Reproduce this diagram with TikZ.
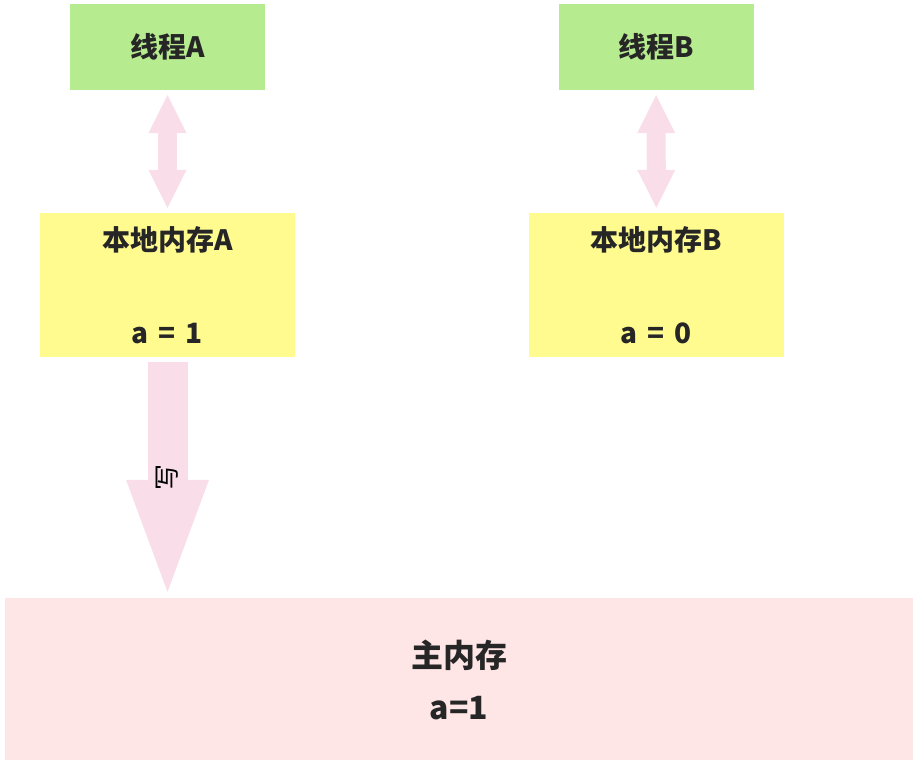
\documentclass[tikz,border=0pt]{standalone}
\usepackage{fontspec}
\setmainfont{Noto Sans CJK SC}
\usetikzlibrary{arrows.meta,positioning}
\definecolor{threadgreen}{HTML}{B7EB8F}
\definecolor{localyellow}{HTML}{FFFB8F}
\definecolor{mainpink}{HTML}{FFE6E6}
\definecolor{arrowpink}{HTML}{F9DDE8}
\definecolor{textgray}{HTML}{262626}
\newcommand{\valsep}{\hskip10pt}

\begin{document}
\begin{tikzpicture}[x=1pt,y=-1pt,
  font=\bfseries\fontsize{28}{32}\selectfont, text=textgray,
  thread/.style={fill=threadgreen,minimum width=195pt,minimum height=86pt,inner sep=0pt},
  local/.style={fill=localyellow,minimum width=255pt,minimum height=144pt,inner sep=0pt},
  mainmem/.style={fill=mainpink,minimum width=908pt,minimum height=162pt,inner sep=0pt},
  txt/.style={inner sep=0pt},
  bigtxt/.style={inner sep=0pt,font=\bfseries\fontsize{32}{36}\selectfont},
  biarrow/.style={arrowpink,line width=19pt,shorten >=5pt,shorten <=5pt,
    {Triangle[length=38pt,width=38pt,line width=0pt]}-{Triangle[length=38pt,width=38pt,line width=0pt]}},
  wrarrow/.style={arrowpink,line width=40pt,shorten >=6pt,shorten <=5pt,
    -{Triangle[length=112pt,width=83pt,line width=0pt]}}]
\useasboundingbox (0,0) rectangle (918,764);

\node[thread] (t_A) at (167.5,47) {线程A};
\node[thread] (t_B) at (656,47) {线程B};
\node[local] (m_A) at (167.5,285) {};
\node[local] (m_B) at (656.5,285) {};
\node[mainmem] (main) at (459,679) {};

\node[txt] (m_A_title) at ([yshift=-27pt]m_A.north) {本地内存A};
\node[txt] (m_A_val) at ([yshift=24pt]m_A.south) {a\valsep=\valsep1};
\node[txt] (m_B_title) at ([yshift=-27pt]m_B.north) {本地内存B};
\node[txt] (m_B_val) at ([yshift=24pt]m_B.south) {a\valsep=\valsep0};
\node[bigtxt] (main_title) at ([yshift=24pt]main.center) {主内存};
\node[bigtxt] (main_val) at ([yshift=-29pt]main.center) {a=1};

\coordinate (w_A) at (m_A.south |- main.north);

\draw[biarrow] (t_A) -- (m_A);
\draw[biarrow] (t_B) -- (m_B);
\draw[wrarrow] (m_A.south) -- (w_A)
  node[midway,rotate=90,text=black,font=\mdseries\fontsize{26}{30}\selectfont] {写};
\end{tikzpicture}
\end{document}
